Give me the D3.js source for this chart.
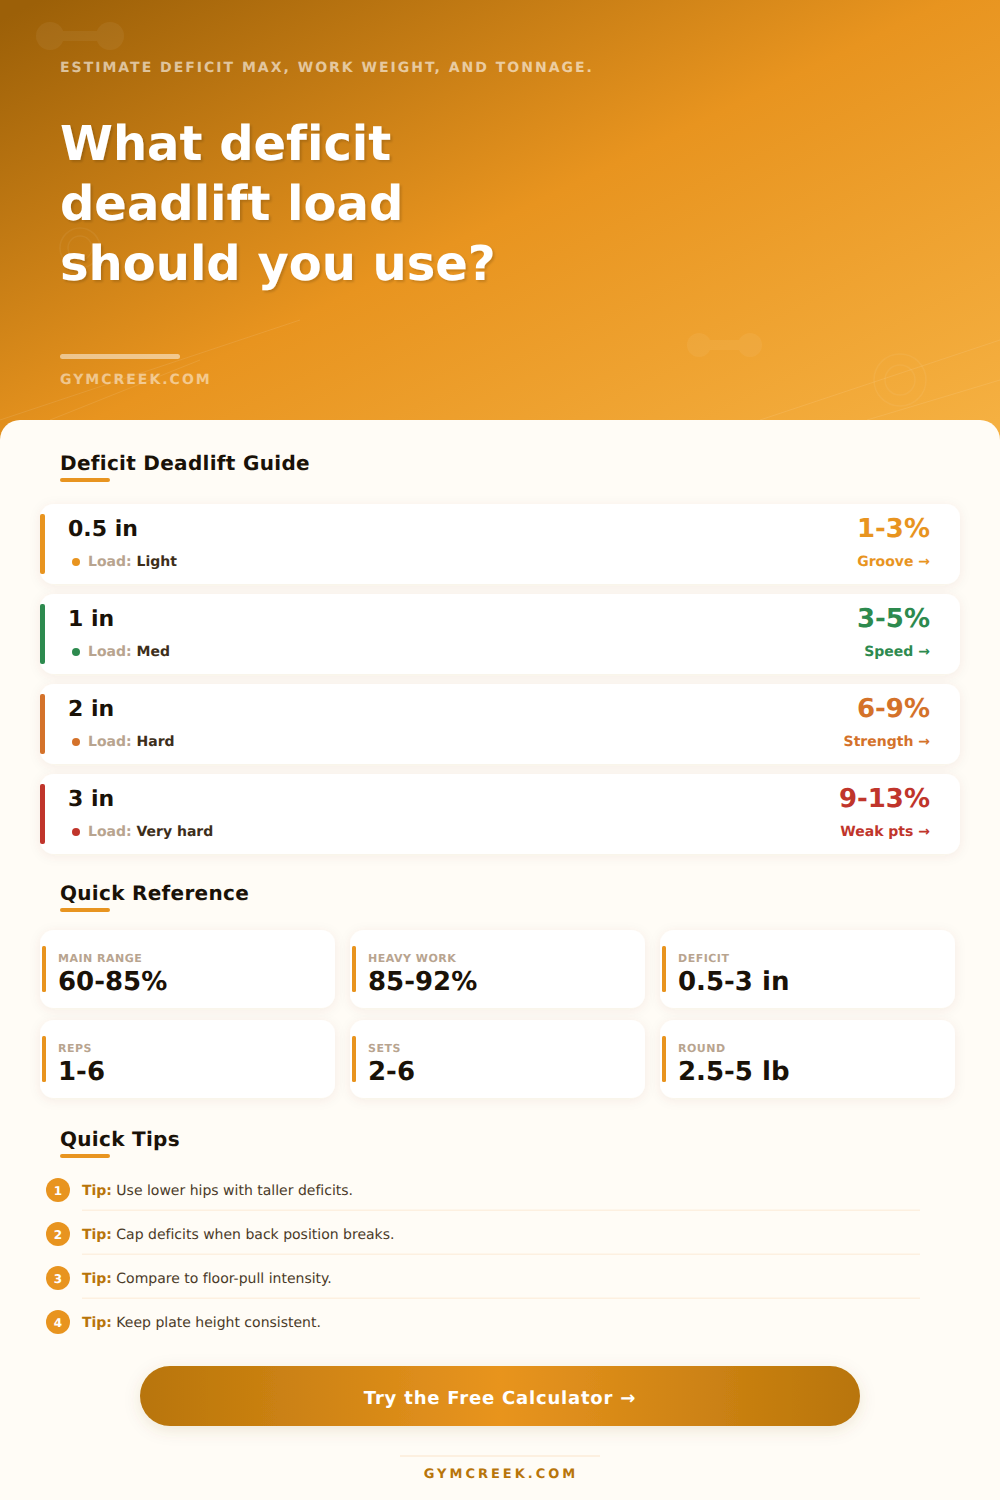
<!DOCTYPE html>
<html>
<head>
<meta charset="utf-8">
<script src="https://cdn.jsdelivr.net/npm/d3@7"></script>
<style>
    body { margin: 0; background: #fffcf6; }
    svg { display: block; }
    text { font-family: "DejaVu Sans", sans-serif; font-variant-ligatures: none; text-rendering: geometricPrecision; }
</style>
</head>
<body>
<div id="chart"></div>
<script>
// guide rows
var deficits = ["0.5 in", "1 in", "2 in", "3 in"];
var loads = ["Light", "Med", "Hard", "Very hard"];
var percents = ["1-3%", "3-5%", "6-9%", "9-13%"];
var uses = ["Groove →", "Speed →", "Strength →", "Weak pts →"];
var rowColors = ["#e8941f", "#2d8a4e", "#d4722a", "#c0352b"];

// quick reference
var statLabels = ["MAIN RANGE", "HEAVY WORK", "DEFICIT", "REPS", "SETS", "ROUND"];
var statValues = ["60-85%", "85-92%", "0.5-3 in", "1-6", "2-6", "2.5-5 lb"];

// tips
var tips = [
    "Use lower hips with taller deficits.",
    "Cap deficits when back position breaks.",
    "Compare to floor-pull intensity.",
    "Keep plate height consistent."
];

var titleLines = ["What deficit", "deadlift load", "should you use?"];

var width = 1000, height = 1500;
var amber = "#e8941f", dark = "#1a1208", brown = "#b8750a", muted = "#b8a48f";

var svg = d3.select("#chart").append("svg")
    .attr("width", width)
    .attr("height", height);
var defs = svg.append("defs");

//hero gradient, same as a css 160deg gradient on a 1000x440 box
var heroGrad = defs.append("linearGradient")
    .attr("id", "heroGrad")
    .attr("gradientUnits", "userSpaceOnUse")
    .attr("x1", 324).attr("y1", -139)
    .attr("x2", 676).attr("y2", 579);
heroGrad.append("stop").attr("offset", "0%").attr("stop-color", "#9c6008");
heroGrad.append("stop").attr("offset", "50%").attr("stop-color", amber);
heroGrad.append("stop").attr("offset", "100%").attr("stop-color", "#f5b041");

var btnGrad = defs.append("linearGradient").attr("id", "btnGrad");
btnGrad.append("stop").attr("offset", "0%").attr("stop-color", brown);
btnGrad.append("stop").attr("offset", "50%").attr("stop-color", amber);
btnGrad.append("stop").attr("offset", "100%").attr("stop-color", brown);

function shadow(id, dy, blur, alpha) {
    defs.append("filter")
        .attr("id", id)
        .attr("x", "-10%").attr("y", "-40%")
        .attr("width", "120%").attr("height", "180%")
        .append("feDropShadow")
        .attr("dx", 0).attr("dy", dy)
        .attr("stdDeviation", blur)
        .attr("flood-color", "#78500a")
        .attr("flood-opacity", alpha);
}
shadow("cardShadow", 2, 6, 0.07);
shadow("btnShadow", 4, 8, 0.13);

defs.append("filter")
    .attr("id", "titleShadow")
    .attr("x", "-5%").attr("y", "-10%")
    .attr("width", "110%").attr("height", "120%")
    .append("feDropShadow")
    .attr("dx", 2).attr("dy", 2)
    .attr("stdDeviation", 1)
    .attr("flood-color", "#000")
    .attr("flood-opacity", 0.15);

/* ---- hero ---- */
var hero = svg.append("g");
hero.append("rect")
    .attr("width", width)
    .attr("height", 440)
    .attr("fill", "url(#heroGrad)");

//faint decoration behind the text
var deco = hero.append("g");
function dumbbell(x1, x2, y, r, barH) {
    var g = deco.append("g").attr("opacity", 0.05);
    g.append("rect").attr("x", x1).attr("y", y - barH / 2)
        .attr("width", x2 - x1).attr("height", barH)
        .attr("fill", "#fff");
    [x1, x2].forEach(function (x) {
        g.append("circle").attr("cx", x).attr("cy", y).attr("r", r)
            .attr("fill", "#fff");
    });
}
dumbbell(50, 110, 36, 14, 10);
dumbbell(699, 750, 345, 12, 10);

function target(x, y, r1, r2) {
    [r1, r2].forEach(function (r) {
        deco.append("circle").attr("cx", x).attr("cy", y).attr("r", r)
            .attr("fill", "none").attr("stroke", "#fff")
            .attr("stroke-width", 1.5).attr("opacity", 0.06);
    });
}
target(80, 248, 20, 12);
target(900, 380, 26, 15);

function streak(x1, y1, x2, y2) {
    deco.append("line")
        .attr("x1", x1).attr("y1", y1).attr("x2", x2).attr("y2", y2)
        .attr("stroke", "#fff").attr("stroke-width", 1).attr("opacity", 0.09);
}
streak(0, 420, 300, 320);
streak(50, 420, 200, 360);
streak(760, 420, 1000, 340);
streak(867, 420, 1000, 380);

hero.append("text")
    .attr("x", 60).attr("y", 72)
    .attr("font-size", 14).attr("font-weight", 700)
    .attr("letter-spacing", 2)
    .attr("fill", "#fff").attr("fill-opacity", 0.6)
    .text("ESTIMATE DEFICIT MAX, WORK WEIGHT, AND TONNAGE.");

hero.selectAll(".title").data(titleLines).enter().append("text")
    .attr("class", "title")
    .attr("x", 60)
    .attr("y", function (d, i) { return 160 + i * 60; })
    .attr("font-size", 48).attr("font-weight", 700)
    .attr("fill", "#fff")
    .attr("filter", "url(#titleShadow)")
    .text(function (d) { return d; });

hero.append("rect")
    .attr("x", 60).attr("y", 354).attr("width", 120).attr("height", 5)
    .attr("rx", 2.5).attr("fill", "#fff").attr("fill-opacity", 0.5);

hero.append("text")
    .attr("x", 60).attr("y", 384)
    .attr("font-size", 14).attr("font-weight", 700)
    .attr("letter-spacing", 2)
    .attr("fill", "#fff").attr("fill-opacity", 0.5)
    .text("GYMCREEK.COM");

/* ---- sheet ---- */
svg.append("rect")
    .attr("y", 420).attr("width", width).attr("height", 1100)
    .attr("rx", 20).attr("fill", "#fffcf6");

function sectionTitle(label, y) {
    svg.append("text")
        .attr("x", 60).attr("y", y)
        .attr("font-size", 20).attr("font-weight", 700)
        .attr("letter-spacing", 0.3)
        .attr("fill", dark)
        .text(label);
    svg.append("rect")
        .attr("x", 60).attr("y", y + 8).attr("width", 50).attr("height", 4)
        .attr("rx", 2).attr("fill", amber);
}
sectionTitle("Deficit Deadlift Guide", 470);
sectionTitle("Quick Reference", 900);
sectionTitle("Quick Tips", 1146);

/* ---- guide rows ---- */
var rowY = d3.scaleBand()
    .domain(d3.range(deficits.length))
    .range([504, 854])
    .paddingInner(1 / 9);

var rows = svg.selectAll(".row").data(deficits).enter().append("g")
    .attr("class", "row")
    .attr("transform", function (d, i) { return "translate(0," + rowY(i) + ")"; });

rows.append("rect")
    .attr("x", 40).attr("width", 920).attr("height", rowY.bandwidth())
    .attr("rx", 14).attr("fill", "#fff")
    .attr("filter", "url(#cardShadow)");

rows.append("rect")
    .attr("x", 40).attr("y", 10).attr("width", 5).attr("height", 60)
    .attr("rx", 2)
    .attr("fill", function (d, i) { return rowColors[i]; });

rows.append("text")
    .attr("x", 68).attr("y", 32)
    .attr("font-size", 22).attr("font-weight", 700)
    .attr("fill", dark)
    .text(function (d) { return d; });

rows.append("circle")
    .attr("cx", 76).attr("cy", 58).attr("r", 4)
    .attr("fill", function (d, i) { return rowColors[i]; });

var loadText = rows.append("text")
    .attr("x", 88).attr("y", 62)
    .attr("font-size", 14).attr("font-weight", 700);
loadText.append("tspan").attr("fill", muted).text("Load: ");
loadText.append("tspan").attr("fill", "#3d2e1a")
    .text(function (d, i) { return loads[i]; });

rows.append("text")
    .attr("x", 930).attr("y", 33)
    .attr("text-anchor", "end")
    .attr("font-size", 26).attr("font-weight", 700)
    .attr("fill", function (d, i) { return rowColors[i]; })
    .text(function (d, i) { return percents[i]; });

rows.append("text")
    .attr("x", 930).attr("y", 62)
    .attr("text-anchor", "end")
    .attr("font-size", 14).attr("font-weight", 700)
    .attr("fill", function (d, i) { return rowColors[i]; })
    .text(function (d, i) { return uses[i]; });

/* ---- quick reference grid ---- */
var statX = d3.scaleBand().domain([0, 1, 2]).range([40, 955]).paddingInner(15 / 310);
var statY = d3.scaleBand().domain([0, 1]).range([930, 1098]).paddingInner(12 / 90);

var stats = svg.selectAll(".stat").data(statLabels).enter().append("g")
    .attr("class", "stat")
    .attr("transform", function (d, i) {
        return "translate(" + statX(i % 3) + "," + statY(Math.floor(i / 3)) + ")";
    });

stats.append("rect")
    .attr("width", statX.bandwidth()).attr("height", statY.bandwidth())
    .attr("rx", 14).attr("fill", "#fff")
    .attr("filter", "url(#cardShadow)");

stats.append("rect")
    .attr("x", 2).attr("y", 16).attr("width", 4).attr("height", 46)
    .attr("rx", 1.5).attr("fill", amber);

stats.append("text")
    .attr("x", 18).attr("y", 32)
    .attr("font-size", 11).attr("font-weight", 700)
    .attr("letter-spacing", 0.5)
    .attr("fill", muted)
    .text(function (d) { return d; });

stats.append("text")
    .attr("x", 18).attr("y", 60)
    .attr("font-size", 26).attr("font-weight", 700)
    .attr("fill", dark)
    .text(function (d, i) { return statValues[i]; });

/* ---- tips ---- */
var tipY = d3.scalePoint().domain(d3.range(tips.length)).range([1190, 1322]);

var tipRows = svg.selectAll(".tip").data(tips).enter().append("g")
    .attr("class", "tip")
    .attr("transform", function (d, i) { return "translate(0," + tipY(i) + ")"; });

tipRows.append("circle")
    .attr("cx", 58).attr("r", 12).attr("fill", amber);

tipRows.append("text")
    .attr("x", 58).attr("y", 4.5)
    .attr("text-anchor", "middle")
    .attr("font-size", 12).attr("font-weight", 700)
    .attr("fill", "#fff")
    .text(function (d, i) { return i + 1; });

var tipText = tipRows.append("text")
    .attr("x", 82).attr("y", 5)
    .attr("font-size", 14);
tipText.append("tspan")
    .attr("font-weight", 700).attr("fill", brown)
    .text("Tip: ");
tipText.append("tspan")
    .attr("dx", -0.5)
    .attr("fill", "#4a3a28")
    .text(function (d) { return d; });

tipRows.filter(function (d, i) { return i < tips.length - 1; }).append("rect")
    .attr("x", 82).attr("y", 19.5).attr("width", 838).attr("height", 1.5)
    .attr("fill", "#fdf0e0");

/* ---- button + footer ---- */
svg.append("rect")
    .attr("x", 140).attr("y", 1366).attr("width", 720).attr("height", 60)
    .attr("rx", 30)
    .attr("fill", "url(#btnGrad)")
    .attr("filter", "url(#btnShadow)");

svg.append("text")
    .attr("x", 500).attr("y", 1404)
    .attr("text-anchor", "middle")
    .attr("font-size", 18).attr("font-weight", 700)
    .attr("letter-spacing", 0.8)
    .attr("fill", "#fff")
    .text("Try the Free Calculator →");

svg.append("rect")
    .attr("x", 400).attr("y", 1455).attr("width", 200).attr("height", 2)
    .attr("fill", "#fdf0e0");

svg.append("text")
    .attr("x", 501).attr("y", 1478)
    .attr("text-anchor", "middle")
    .attr("font-size", 13).attr("font-weight", 700)
    .attr("letter-spacing", 3)
    .attr("fill", brown)
    .text("GYMCREEK.COM");
</script>
</body>
</html>
